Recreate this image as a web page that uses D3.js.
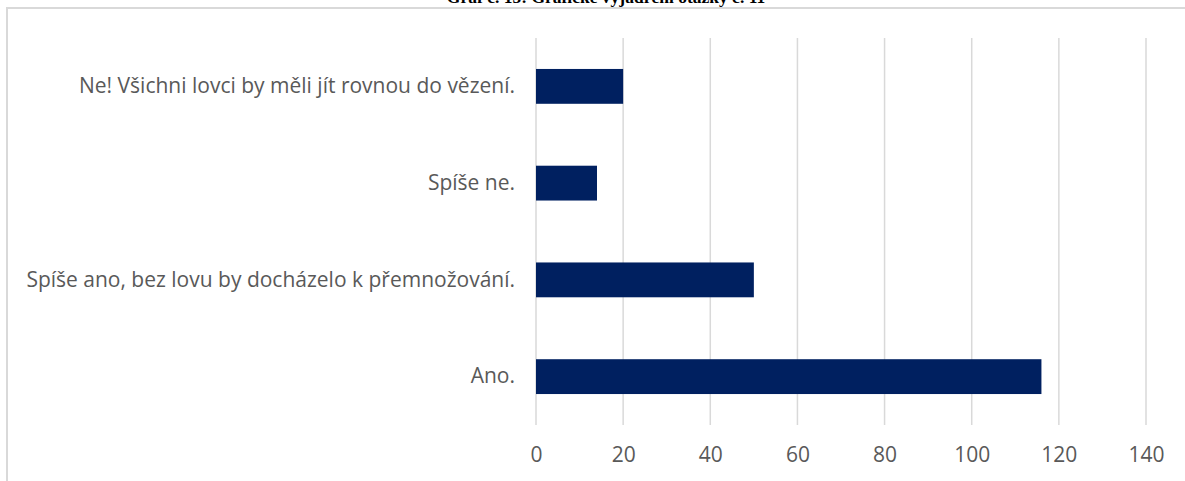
<!DOCTYPE html>
<html>
<head>
<meta charset="utf-8">
<script src="https://cdn.jsdelivr.net/npm/d3@7"></script>
<style>
  body { margin: 0; background: #fff; }
  svg { display: block; }
</style>
</head>
<body>
<div id="chart"></div>
<script>
'use strict';

const title = "Graf č. 15: Grafické vyjádření otázky č. 11";

const categories = [
    "Ne! Všichni lovci by měli jít rovnou do vězení.",
    "Spíše ne.",
    "Spíše ano, bez lovu by docházelo k přemnožování.",
    "Ano."
];

const counts = [20, 14, 50, 116];

const xTicks = [0, 20, 40, 60, 80, 100, 120, 140];

const width = 1185, height = 481;

const svg = d3.select("#chart")
    .append("svg")
    .attr("width", width)
    .attr("height", height);

// chart frame (only top and left edges are visible)
svg.append("path")
    .attr("d", "M7,481 V8 H1185")
    .attr("fill", "none")
    .attr("stroke", "#d9d9d9")
    .attr("stroke-width", 2);

// title, clipped at top of the page like in the scan
svg.append("text")
    .attr("x", 606)
    .attr("y", 3)
    .attr("text-anchor", "middle")
    .style("font-family", "'Liberation Serif', 'Times New Roman', serif")
    .style("font-weight", "bold")
    .style("font-size", "17.5px")
    .text(title);

const x = d3.scaleLinear()
    .domain([0, 140])
    .range([536, 1146]);

const y = d3.scaleBand()
    .domain(categories)
    .range([38, 425])
    .paddingInner(0.64)
    .paddingOuter(0.32);

// gridlines
svg.append("g")
    .selectAll("line")
    .data(xTicks)
    .enter()
    .append("line")
    .attr("x1", d => x(d))
    .attr("x2", d => x(d))
    .attr("y1", 38)
    .attr("y2", 425)
    .attr("stroke", "#d9d9d9")
    .attr("stroke-width", 1.5);

// bars
svg.append("g")
    .selectAll("rect")
    .data(counts)
    .enter()
    .append("rect")
    .attr("x", x(0))
    .attr("y", (d, i) => y(categories[i]))
    .attr("width", d => x(d) - x(0))
    .attr("height", y.bandwidth())
    .attr("fill", "#002060");

// x axis tick labels
const xAxis = svg.append("g")
    .attr("transform", "translate(0,442)")
    .call(d3.axisBottom(x).tickValues(xTicks).tickSize(0).tickPadding(0));
xAxis.select(".domain").remove();
xAxis.selectAll("text")
    .attr("dy", "0.95em")
    .style("font-family", "'Open Sans', 'Noto Sans', sans-serif")
    .style("font-size", "21px")
    .attr("fill", "#595959");

// category labels
const yAxis = svg.append("g")
    .attr("transform", "translate(515,0)")
    .call(d3.axisLeft(y).tickSize(0).tickPadding(0));
yAxis.select(".domain").remove();
yAxis.selectAll("text")
    .style("font-family", "'Open Sans', 'Noto Sans', sans-serif")
    .style("font-size", "21px")
    .attr("fill", "#595959");
</script>
</body>
</html>
